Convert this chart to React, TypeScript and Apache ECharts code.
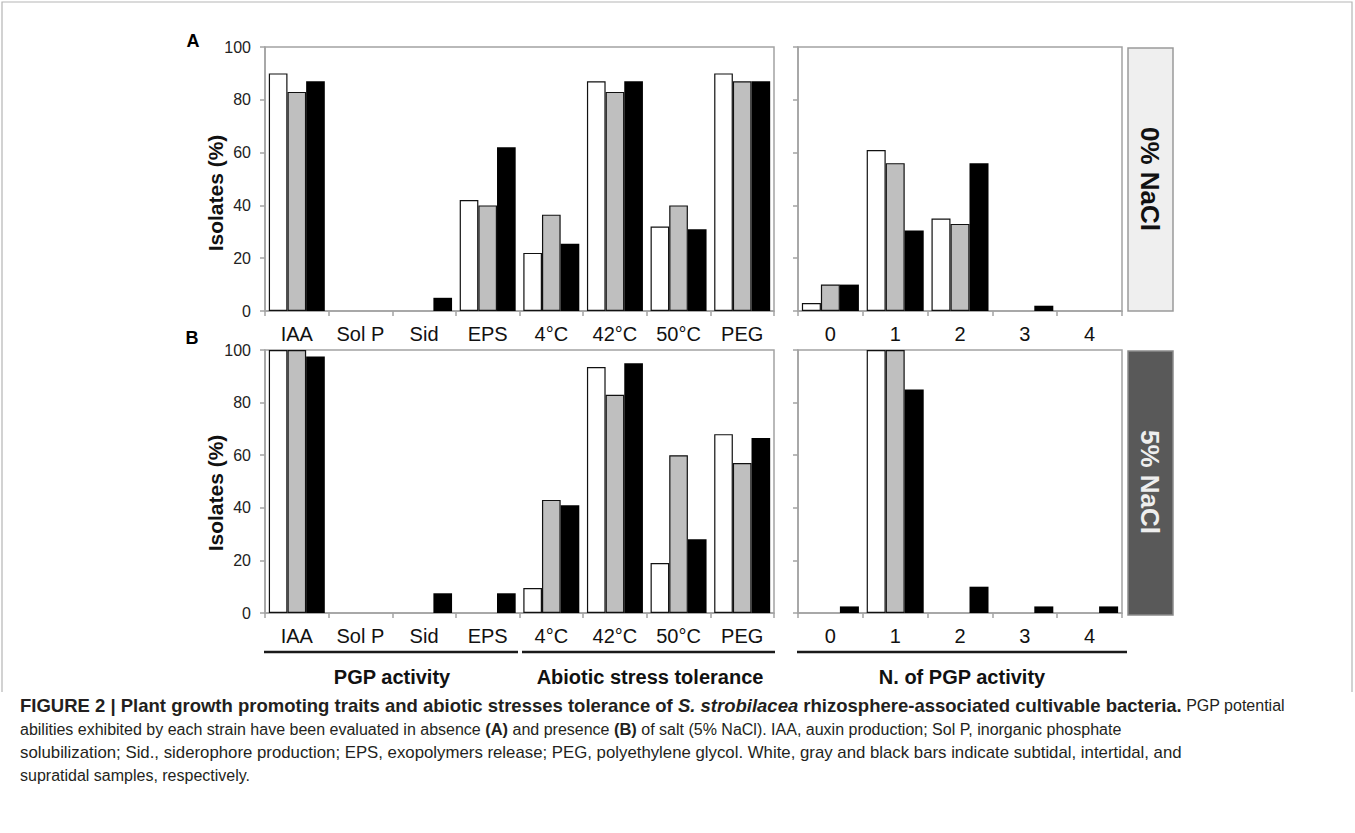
import React, { useEffect, useRef } from "react";
import * as echarts from "echarts";

const traitCategories = ["IAA", "Sol P", "Sid", "EPS", "4°C", "42°C", "50°C", "PEG"];
const countCategories = ["0", "1", "2", "3", "4"];
const seriesNames = ["Subtidal", "Intertidal", "Supratidal"];

// Panel A (0% NaCl)
const aTraitWhite = [90, 0, 0, 42, 22, 87, 32, 90];
const aTraitGray = [83, 0, 0, 40, 36.5, 83, 40, 87];
const aTraitBlack = [87, 0, 5, 62, 25.5, 87, 31, 87];
const aCountWhite = [3, 61, 35, 0, 0];
const aCountGray = [10, 56, 33, 0, 0];
const aCountBlack = [10, 30.5, 56, 2, 0];

// Panel B (5% NaCl)
const bTraitWhite = [100, 0, 0, 0, 9.5, 93.5, 19, 68];
const bTraitGray = [100, 0, 0, 0, 43, 83, 60, 57];
const bTraitBlack = [97.5, 0, 7.5, 7.5, 41, 95, 28, 66.5];
const bCountWhite = [0, 100, 0, 0, 0];
const bCountGray = [0, 100, 0, 0, 0];
const bCountBlack = [2.5, 85, 10, 2.5, 2.5];

const FONT = "Arial, 'Liberation Sans', Helvetica, sans-serif";
const AXIS_GRAY = "#a3a3a3";

const barColors = [
  { color: "#ffffff", borderColor: "#111", borderWidth: 1.2 },
  { color: "#bfbfbf", borderColor: "#111", borderWidth: 1.2 },
  { color: "#000000", borderColor: "#000", borderWidth: 0 },
];

function nz(arr: number[]) {
  return arr.map((v) => (v === 0 ? null : v));
}

export default function App() {
  const ref = useRef<HTMLDivElement>(null);
  useEffect(() => {
    if (!ref.current) return;
    const chart = echarts.init(ref.current, null, { renderer: "svg" });

    const grids = [
      { left: 265, top: 47, width: 509, height: 264 },
      { left: 798, top: 47, width: 324, height: 264 },
      { left: 265, top: 350, width: 509, height: 263 },
      { left: 798, top: 350, width: 324, height: 263 },
    ].map((g) => ({
      ...g,
      show: true,
      borderColor: AXIS_GRAY,
      borderWidth: 1.5,
      backgroundColor: "transparent",
    }));

    const xAxes = [traitCategories, countCategories, traitCategories, countCategories].map(
      (cats, i) => ({
        type: "category",
        gridIndex: i,
        data: cats,
        axisLine: { lineStyle: { color: AXIS_GRAY, width: 1.5 } },
        axisTick: { show: true, length: 5, interval: 0, lineStyle: { color: AXIS_GRAY, width: 1.5 } },
        axisLabel: { fontFamily: FONT, fontSize: 20, color: "#111", margin: 13, interval: 0 },
      })
    );

    const yAxes = [0, 1, 2, 3].map((i) => ({
      type: "value",
      gridIndex: i,
      min: 0,
      max: 100,
      interval: 20,
      axisLine: { show: true, lineStyle: { color: AXIS_GRAY, width: 1.5 } },
      axisTick: { show: true, length: 5, lineStyle: { color: AXIS_GRAY, width: 1.5 } },
      splitLine: { show: false },
      axisLabel: {
        show: i % 2 === 0,
        fontFamily: FONT,
        fontSize: 16,
        color: "#222",
        margin: 14,
      },
    }));

    const panelData = [
      [aTraitWhite, aTraitGray, aTraitBlack],
      [aCountWhite, aCountGray, aCountBlack],
      [bTraitWhite, bTraitGray, bTraitBlack],
      [bCountWhite, bCountGray, bCountBlack],
    ];

    const series: any[] = [];
    panelData.forEach((set, gi) => {
      set.forEach((vals, si) => {
        series.push({
          type: "bar",
          name: seriesNames[si],
          xAxisIndex: gi,
          yAxisIndex: gi,
          data: nz(vals),
          barGap: "0%",
          barCategoryGap: "12%",
          itemStyle: barColors[si],
          z: 3,
        });
      });
    });

    const rotText = (text: string, x: number, y: number, font: string, fill: string, rotation: number) => ({
      type: "text",
      x,
      y,
      rotation,
      style: {
        text,
        font,
        fill,
        align: "center",
        verticalAlign: "middle",
        textAlign: "center",
        textVerticalAlign: "middle",
      },
    });

    const captionRich = {
      n: { fontFamily: FONT, fontSize: 16, color: "#231f20" },
      b: { fontFamily: FONT, fontSize: 18.5, fontWeight: "bold", color: "#231f20" },
      bi: { fontFamily: FONT, fontSize: 18.5, fontWeight: "bold", fontStyle: "italic", color: "#231f20" },
      b2: { fontFamily: FONT, fontSize: 16.5, fontWeight: "bold", color: "#231f20" },
    };
    const captionLines = [
      "{b|FIGURE 2 | Plant growth promoting traits and abiotic stresses tolerance of }{bi|S. strobilacea}{b| rhizosphere-associated cultivable bacteria.}{n| PGP potential}",
      "{n|abilities exhibited by each strain have been evaluated in absence }{b2|(A)}{n| and presence }{b2|(B)}{n| of salt (5% NaCl). IAA, auxin production; Sol P, inorganic phosphate}",
      "{n|solubilization; Sid., siderophore production; EPS, exopolymers release; PEG, polyethylene glycol. White, gray and black bars indicate subtidal, intertidal, and}",
      "{n|supratidal samples, respectively.}",
    ];
    const captionY = [705, 729, 752, 775];
    const captionScaleX = [1, 1, 1.05, 1];

    const graphic: any[] = [
      {
        type: "polyline",
        shape: { points: [[2, 692], [2, 2], [1352, 2], [1352, 692]] },
        style: { stroke: "#b5b5b5", lineWidth: 1.2, fill: null },
      },
      rotText("A", 193, 41, `bold 18px ${FONT}`, "#000", 0),
      rotText("B", 192, 338, `bold 18px ${FONT}`, "#000", 0),
      rotText("Isolates (%)", 215, 193, `bold 21px ${FONT}`, "#111", Math.PI / 2),
      rotText("Isolates (%)", 215, 493, `bold 21px ${FONT}`, "#111", Math.PI / 2),
      {
        type: "rect",
        shape: { x: 1128, y: 48, width: 45, height: 263 },
        style: { fill: "#efefef", stroke: "#9a9a9a", lineWidth: 1.5 },
      },
      rotText("0% NaCl", 1150, 179, `bold 26px ${FONT}`, "#111", -Math.PI / 2),
      {
        type: "rect",
        shape: { x: 1128, y: 351, width: 45, height: 264 },
        style: { fill: "#595959", stroke: "#8a8a8a", lineWidth: 1.5 },
      },
      rotText("5% NaCl", 1150, 482, `bold 26px ${FONT}`, "#eeeeee", -Math.PI / 2),
      { type: "line", shape: { x1: 264, y1: 652, x2: 518, y2: 652 }, style: { stroke: "#1a1a1a", lineWidth: 2.5 } },
      { type: "line", shape: { x1: 522, y1: 652, x2: 775, y2: 652 }, style: { stroke: "#1a1a1a", lineWidth: 2.5 } },
      { type: "line", shape: { x1: 797, y1: 652, x2: 1127, y2: 652 }, style: { stroke: "#1a1a1a", lineWidth: 2.5 } },
      rotText("PGP activity", 392, 677, `bold 20px ${FONT}`, "#111", 0),
      rotText("Abiotic stress tolerance", 650, 677, `bold 20px ${FONT}`, "#111", 0),
      rotText("N. of PGP activity", 962, 677, `bold 20px ${FONT}`, "#111", 0),
    ];
    captionLines.forEach((t, i) => {
      graphic.push({
        type: "text",
        x: 20,
        y: captionY[i],
        scaleX: captionScaleX[i],
        style: {
          text: t,
          rich: captionRich,
          font: `16px ${FONT}`,
          fill: "#231f20",
          verticalAlign: "middle",
          textVerticalAlign: "middle",
        },
      });
    });

    chart.setOption({
      animation: false,
      backgroundColor: "#ffffff",
      grid: grids,
      xAxis: xAxes,
      yAxis: yAxes,
      series,
      graphic,
    });
    return () => chart.dispose();
  }, []);

  return (
    <div
      ref={ref}
      style={{ position: "absolute", left: 0, top: 0, width: 1355, height: 833, background: "#fff" }}
    />
  );
}
